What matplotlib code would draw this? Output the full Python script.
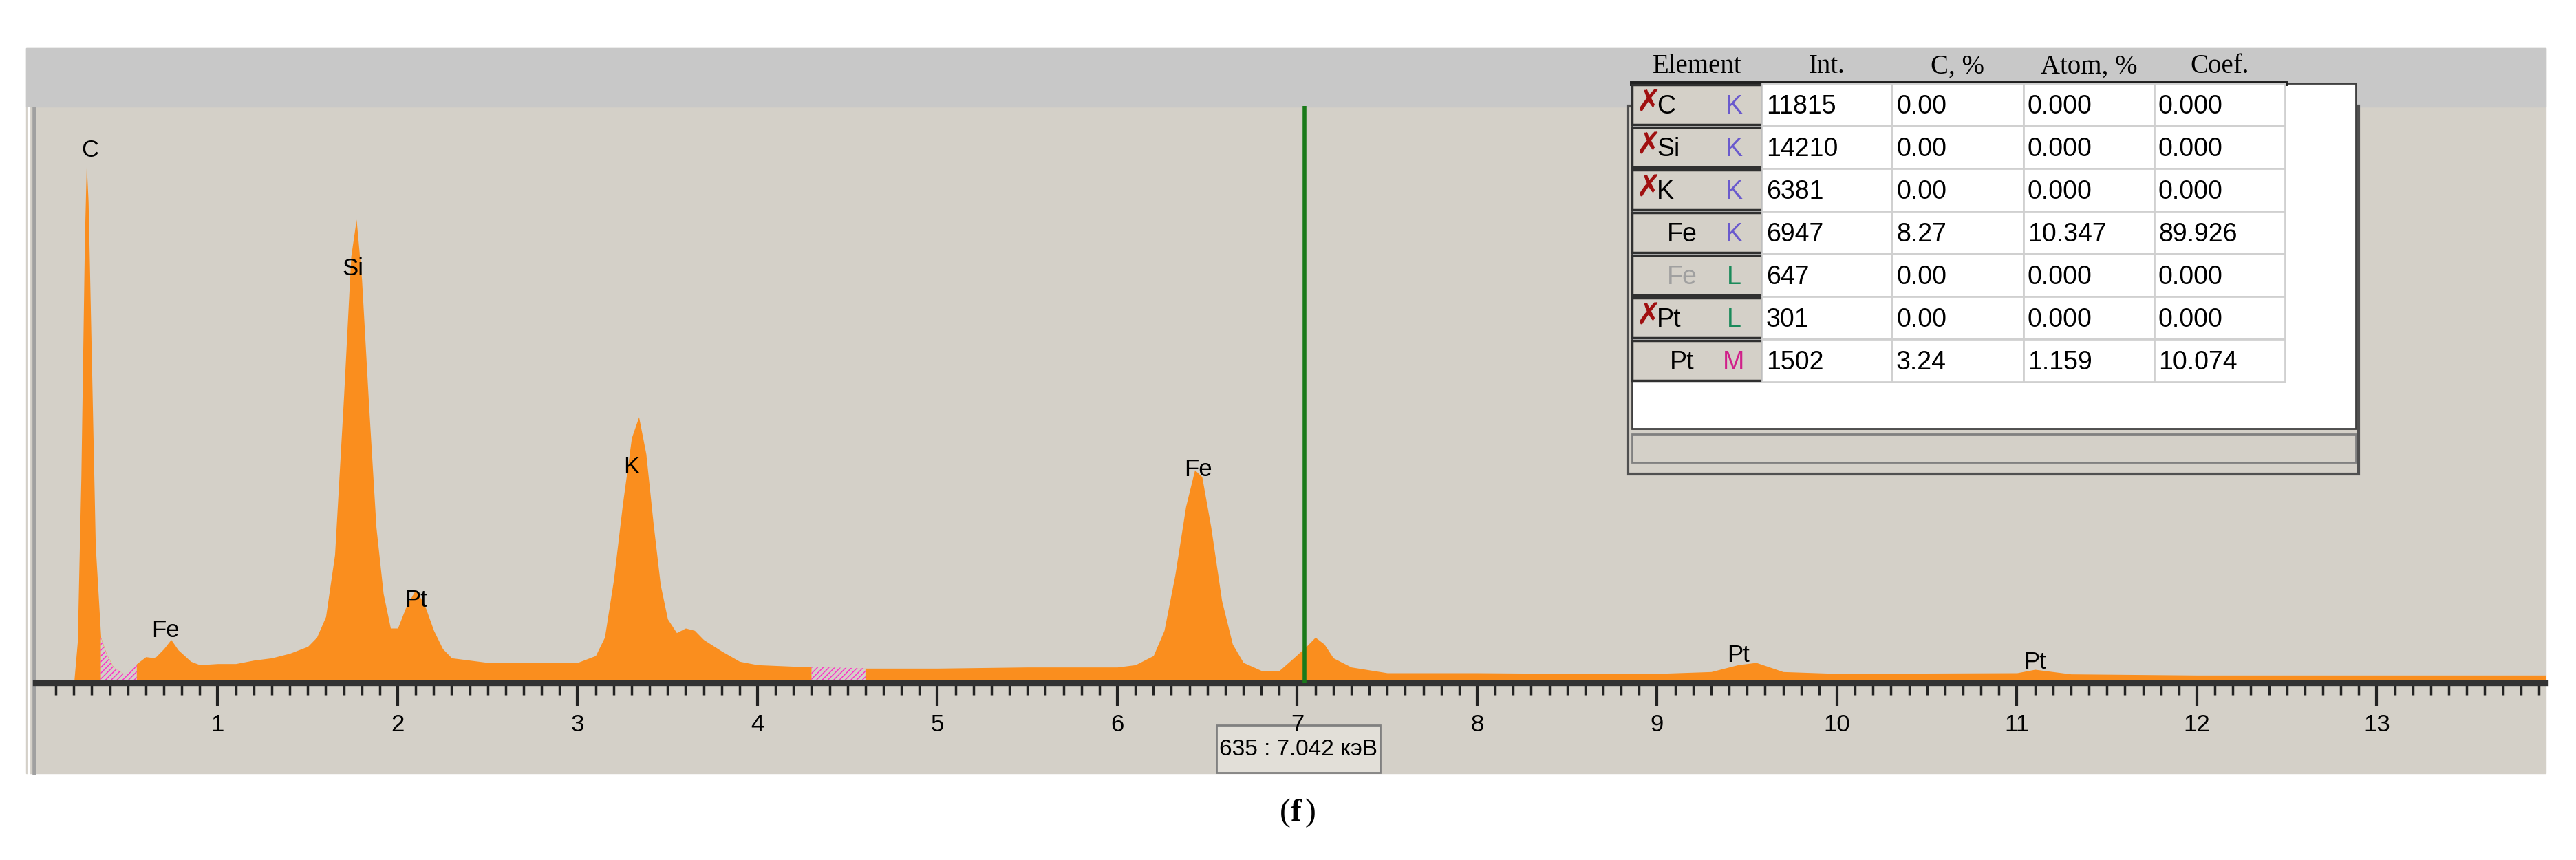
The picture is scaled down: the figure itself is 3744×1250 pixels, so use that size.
import matplotlib
matplotlib.use("Agg")
import matplotlib.pyplot as plt
from matplotlib.patches import Rectangle

# spectrum (keV, counts)
energy = [0.20, 0.22, 0.24, 0.26, 0.27, 0.28, 0.30, 0.32, 0.35, 0.38, 0.42, 0.48, 0.55, 0.60,
          0.65, 0.70, 0.74, 0.78, 0.85, 0.90, 1.00, 1.10, 1.20, 1.30, 1.40, 1.50, 1.55, 1.60,
          1.65, 1.70, 1.74, 1.77, 1.80, 1.84, 1.88, 1.92, 1.96, 2.00, 2.05, 2.10, 2.15, 2.20,
          2.25, 2.30, 2.50, 2.80, 3.00, 3.10, 3.15, 3.20, 3.25, 3.30, 3.34, 3.38, 3.42, 3.46,
          3.50, 3.55, 3.60, 3.65, 3.70, 3.80, 3.90, 4.00, 4.30, 4.60, 5.00, 5.50, 6.00, 6.10,
          6.20, 6.26, 6.32, 6.38, 6.43, 6.47, 6.52, 6.58, 6.64, 6.70, 6.80, 6.90, 6.98, 7.05,
          7.10, 7.15, 7.20, 7.30, 7.50, 8.00, 8.50, 9.00, 9.30, 9.45, 9.55, 9.70, 10.0, 11.0,
          11.1, 11.3, 12.0, 13.0, 13.95]
counts = [0, 180, 900, 1950, 2262, 2100, 1350, 600, 200, 130, 70, 40, 85, 115,
          110, 150, 190, 145, 95, 80, 85, 85, 100, 110, 130, 160, 200, 290,
          560, 1250, 1860, 2022, 1760, 1200, 680, 390, 240, 240, 340, 408, 340, 230,
          150, 110, 90, 90, 90, 120, 200, 450, 780, 1070, 1161, 1000, 700, 430,
          280, 220, 240, 230, 190, 140, 95, 80, 70, 65, 65, 70, 70, 80,
          120, 230, 470, 770, 930, 900, 680, 360, 170, 90, 55, 55, 110, 160,
          200, 170, 110, 70, 45, 45, 42, 42, 50, 80, 90, 50, 42, 45,
          60, 40, 35, 35, 35]

hatch_ranges = [(0.33, 0.57), (4.30, 4.65)]
peak_labels = ["C", "Fe", "Si", "Pt", "K", "Fe", "Pt", "Pt"]
peak_x = [0.29, 0.71, 1.75, 2.10, 3.30, 6.45, 9.45, 11.10]
peak_y = [2322, 228, 1806, 360, 945, 933, 120, 93]

cursor_kev = 7.042
cursor_text = "635 : 7.042 кэВ"

tbl_head = ["Element", "Int.", "C, %", "Atom, %", "Coef."]
tbl_el = ["C", "Si", "K", "Fe", "Fe", "Pt", "Pt"]
tbl_line = ["K", "K", "K", "K", "L", "L", "M"]
tbl_off = [True, True, True, False, False, True, False]
tbl_int = ["11815", "14210", "6381", "6947", "647", "301", "1502"]
tbl_c = ["0.00", "0.00", "0.00", "8.27", "0.00", "0.00", "3.24"]
tbl_atom = ["0.000", "0.000", "0.000", "10.347", "0.000", "0.000", "1.159"]
tbl_coef = ["0.000", "0.000", "0.000", "89.926", "0.000", "0.000", "10.074"]

W, H = 3744, 1250
BG = "#D4D0C8"
ORANGE = "#FA8E1E"
SANS = "Liberation Sans"
fig = plt.figure(figsize=(W / 100, H / 100), dpi=100)

# overlay in pixel coordinates
ov = fig.add_axes([0, 0, 1, 1])
ov.set_xlim(0, W)
ov.set_ylim(H, 0)
ov.axis("off")
ov.add_patch(Rectangle((38, 70), 3662, 1054, color=BG, zorder=0))
ov.add_patch(Rectangle((38, 70), 3662, 85, color="#C8C8C8", zorder=0))
ov.plot([50, 50], [158, 1124], color="#A0A0A0", lw=4, zorder=1)
ov.plot([42, 42], [158, 1124], color="white", lw=3, zorder=1)

# spectrum axes: 0 keV at x=55 px, 261.5 px per keV, baseline y=993
px_kev = 261.5
left, right, top, base = 52, 3700, 154, 993
ax = fig.add_axes([left / W, 1 - base / H, (right - left) / W, (base - top) / H])
ax.set_xlim((left - 55) / px_kev, (right - 55) / px_kev)
ax.set_ylim(0, (base - top) * 3)
ax.patch.set_alpha(0)
for s in ax.spines.values():
    s.set_visible(False)
ax.fill_between(energy, counts, color=ORANGE, lw=0, zorder=2)
for a, b in hatch_ranges:
    xs = [e for e in energy if a <= e <= b]
    ys = [c for e, c in zip(energy, counts) if a <= e <= b]
    ax.fill_between(xs, ys, color=BG, edgecolor="#FF2BC8", hatch="////", lw=0, zorder=3)
ax.axhline(6, color=ORANGE, lw=3, zorder=4)
for t, x, y in zip(peak_labels, peak_x, peak_y):
    ax.text(x, y, t, ha="center", va="center", fontsize=25, family=SANS, zorder=5)
ax.axvline(cursor_kev, color="#1A7A1A", lw=4, zorder=6)
ax.tick_params(axis="y", left=False, labelleft=False)
ax.set_xticks(range(1, 14))
ax.set_xticks([i / 10 for i in range(1, 140)], minor=True)
ax.tick_params(axis="x", which="major", length=24, width=3, color="#222222",
               labelsize=25, pad=8)
ax.tick_params(axis="x", which="minor", length=12, width=2.5, color="#222222")
for lab in ax.get_xticklabels():
    lab.set_family(SANS)
ax.axhline(0, color="#333333", lw=6, zorder=4, clip_on=False)

# cursor readout
ov.add_patch(Rectangle((1768, 1054), 238, 69, facecolor="#E2DFD8", edgecolor="#808080", lw=2, zorder=3))
ov.text(1887, 1090, cursor_text, ha="center", va="center", fontsize=24, family=SANS, zorder=4)

# element table panel
ov.add_patch(Rectangle((2366, 154), 1062, 535, facecolor=BG, edgecolor="#505050", lw=3, zorder=3))
ov.add_patch(Rectangle((2372, 121), 1052, 502, facecolor="white", edgecolor="#404040", lw=2, zorder=3))
ov.add_patch(Rectangle((2372, 70), 1052, 51, facecolor="#C8C8C8", lw=0, zorder=3))
ov.add_patch(Rectangle((2372, 631), 1052, 41, facecolor=BG, edgecolor="#808080", lw=2, zorder=4))
cols = [2372, 2561, 2750, 2941, 3131, 3321]
for i, h in enumerate(tbl_head):
    ov.text((cols[i] + cols[i + 1]) / 2, 97, h, ha="center", va="center", fontsize=28,
            family="Liberation Serif", zorder=5)
ov.plot([2372, 3321], [121, 121], color="#202020", lw=5, zorder=5)
row_h = 62
for r in range(len(tbl_el)):
    y0 = 121 + r * row_h
    ov.add_patch(Rectangle((cols[0], y0 + 2), cols[1] - cols[0], row_h - 4, facecolor=BG,
                           edgecolor="#303030", lw=2.5, zorder=5))
    for c in range(1, 5):
        ov.add_patch(Rectangle((cols[c], y0), cols[c + 1] - cols[c], row_h, facecolor="white",
                               edgecolor="#D0D0D0", lw=2, zorder=5))
    yc = y0 + row_h / 2
    if tbl_off[r]:
        ov.text(2378, yc - 4, "✗", color="#A01010", fontsize=32, fontweight="bold",
                ha="left", va="center", family="DejaVu Sans", zorder=6)
        ov.text(2408, yc + 3, tbl_el[r], fontsize=27, ha="left", va="center",
                family=SANS, zorder=6)
    else:
        ov.text(2445, yc + 3, tbl_el[r], fontsize=27, ha="center", va="center",
                color="#A0A0A0" if tbl_line[r] == "L" else "black",
                family=SANS, zorder=6)
    lc = {"K": "#6A5ACD", "L": "#1A8A5A", "M": "#D0208A"}[tbl_line[r]]
    ov.text(2520, yc + 3, tbl_line[r], color=lc, fontsize=27, ha="center", va="center",
            family=SANS, zorder=6)
    for c, vals in zip(range(1, 5), [tbl_int, tbl_c, tbl_atom, tbl_coef]):
        ov.text(cols[c] + 6, yc + 3, vals[r], fontsize=27, ha="left", va="center",
                family=SANS, zorder=6)

ov.text(1876, 1182, "(", fontsize=34, family="Liberation Serif", ha="right", va="center")
ov.text(1876, 1182, "f", fontsize=34, family="Liberation Serif", fontweight="bold", ha="left", va="center")
ov.text(1896, 1182, ")", fontsize=34, family="Liberation Serif", ha="left", va="center")

fig.savefig("out.png", dpi=100)
